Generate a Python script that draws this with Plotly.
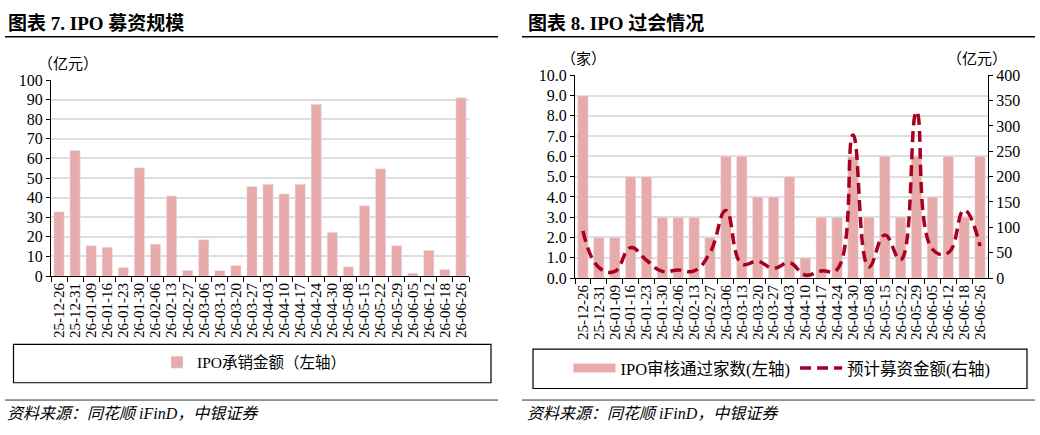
import plotly.graph_objects as go

# ---------------- data ----------------
dates = ["25-12-26", "25-12-31", "26-01-09", "26-01-16", "26-01-23", "26-01-30",
         "26-02-06", "26-02-13", "26-02-27", "26-03-06", "26-03-13", "26-03-20",
         "26-03-27", "26-04-03", "26-04-10", "26-04-17", "26-04-24", "26-04-30",
         "26-05-08", "26-05-15", "26-05-22", "26-05-29", "26-06-05", "26-06-12",
         "26-06-18", "26-06-26"]

ipo_underwriting = [32.8, 64.1, 15.5, 14.7, 4.4, 55.3, 16.3, 40.9, 2.9, 18.6, 2.8, 5.4,
                    45.7, 46.8, 41.9, 46.8, 87.7, 22.3, 4.7, 35.9, 54.7, 15.5, 1.5, 13.1,
                    3.4, 91.0]

ipo_approved = [9, 2, 2, 5, 5, 3, 3, 3, 2, 6, 6, 4, 4, 5, 1, 3, 3, 6, 3, 6, 3, 6, 4, 6, 3, 6]

planned_raise = [93, 21, 13, 60, 35, 13, 16, 14, 50, 133, 28, 33, 19, 30, 6, 14, 17, 282,
                 22, 85, 36, 328, 57, 50, 134, 63]

left_ticks = list(range(0, 101, 10))
right_left_ticks = [i * 1.0 for i in range(0, 11)]
right_right_ticks = list(range(0, 401, 50))

# ---------------- style ----------------
W, H = 1040, 435
BAR = "#E8ABAB"
LINE = "#A8001E"
GRID = "#DEDEDE"
SERIF = "Liberation Serif, 'Noto Sans CJK SC', serif"
CJK = "'Noto Sans CJK SC', 'Liberation Serif', serif"


def px(x):
    return x / W


def py(y):
    return 1 - y / H


fig = go.Figure()

fig.add_trace(go.Bar(x=dates, y=ipo_underwriting, marker_color=BAR, width=0.64,
                     name="IPO承销金额（左轴）", xaxis="x", yaxis="y", legend="legend"))

fig.add_trace(go.Bar(x=dates, y=ipo_approved, marker_color=BAR, width=0.66,
                     name="IPO审核通过家数(左轴)", xaxis="x2", yaxis="y2",
                     showlegend=False))
fig.add_trace(go.Scatter(x=[None], y=[None], mode="lines", xaxis="x2", yaxis="y2",
                         line=dict(color=BAR, width=9), name="IPO审核通过家数(左轴)",
                         legend="legend2"))
fig.add_trace(go.Scatter(x=dates, y=planned_raise, mode="lines", xaxis="x2", yaxis="y3",
                         line=dict(color=LINE, width=3.5, dash="11px,6px", shape="spline",
                                   smoothing=1.3),
                         name="预计募资金额(右轴)", legend="legend2"))

line_common = dict(showline=True, linecolor="black", linewidth=1, ticks="outside",
                   tickcolor="black", zeroline=False)
ytick_font = dict(family=SERIF, size=16, color="black")
xtick_font = dict(family=SERIF, size=15, color="black")

fig.update_layout(
    width=W, height=H, autosize=False,
    margin=dict(l=0, r=0, t=0, b=0),
    paper_bgcolor="white", plot_bgcolor="white",
    showlegend=True,
    xaxis=dict(domain=[px(51), px(469)], anchor="y", type="category",
               tickmode="linear", tick0=0, dtick=1,
               tickangle=-90, tickson="boundaries", ticklen=5, showgrid=False,
               tickfont=xtick_font, **line_common),
    yaxis=dict(domain=[py(279), py(75)], anchor="x", range=[0, 100],
               tickvals=left_ticks, ticklen=4, showgrid=True, gridcolor=GRID,
               gridwidth=1.5, tickfont=ytick_font, **line_common),
    xaxis2=dict(domain=[px(575), px(988)], anchor="y2", type="category",
                tickmode="linear", tick0=0, dtick=1,
                tickangle=-90, tickson="boundaries", ticklen=5, showgrid=False,
                tickfont=xtick_font, **line_common),
    yaxis2=dict(domain=[py(281), py(70)], anchor="x2", range=[0, 10],
                tickvals=right_left_ticks, tickformat=".1f", ticklen=4, showgrid=True,
                gridcolor=GRID, gridwidth=1.5, tickfont=ytick_font, **line_common),
    yaxis3=dict(anchor="x2", overlaying="y2", side="right", range=[0, 400],
                tickvals=right_right_ticks, ticklen=4, showgrid=False,
                tickfont=ytick_font, **line_common),
    legend=dict(x=px(254), y=py(369), xanchor="center", yanchor="middle",
                bgcolor="rgba(0,0,0,0)", borderwidth=0,
                font=dict(family=SERIF, size=15.5, color="black")),
    legend2=dict(x=px(782), y=py(375), xanchor="center", yanchor="middle",
                 orientation="h", itemwidth=42, bgcolor="rgba(0,0,0,0)", borderwidth=0,
                 font=dict(family=SERIF, size=16.5, color="black")),
)

shapes = [
    # title underlines
    dict(type="line", xref="paper", yref="paper", x0=px(5), x1=px(498), y0=py(30), y1=py(30),
         line=dict(color="black", width=1.5)),
    dict(type="line", xref="paper", yref="paper", x0=px(522), x1=px(1035), y0=py(30), y1=py(30),
         line=dict(color="black", width=1.5)),
    # source lines
    dict(type="line", xref="paper", yref="paper", x0=px(5), x1=px(498), y0=py(408), y1=py(408),
         line=dict(color="#333333", width=1)),
    dict(type="line", xref="paper", yref="paper", x0=px(522), x1=px(1035), y0=py(408), y1=py(408),
         line=dict(color="#333333", width=1)),
    # legend boxes
    dict(type="rect", xref="paper", yref="paper", x0=px(13.5), x1=px(491), y0=py(390), y1=py(350),
         line=dict(color="black", width=1.2), fillcolor="rgba(0,0,0,0)"),
    dict(type="rect", xref="paper", yref="paper", x0=px(533), x1=px(1027), y0=py(396), y1=py(355),
         line=dict(color="black", width=1.2), fillcolor="rgba(0,0,0,0)"),
]

annotations = [
    dict(text="<b>图表 7. IPO 募资规模</b>", x=px(6), y=py(16), xref="paper", yref="paper",
         xanchor="left", yanchor="middle", showarrow=False,
         font=dict(family=SERIF, size=19, color="black")),
    dict(text="<b>图表 8. IPO 过会情况</b>", x=px(526), y=py(16), xref="paper", yref="paper",
         xanchor="left", yanchor="middle", showarrow=False,
         font=dict(family=SERIF, size=19, color="black")),
    dict(text="（亿元）", x=px(36), y=py(57), xref="paper", yref="paper",
         xanchor="left", yanchor="middle", showarrow=False,
         font=dict(family=CJK, size=15, color="black")),
    dict(text="（家）", x=px(559), y=py(51), xref="paper", yref="paper",
         xanchor="left", yanchor="middle", showarrow=False,
         font=dict(family=CJK, size=15, color="black")),
    dict(text="（亿元）", x=px(945), y=py(51), xref="paper", yref="paper",
         xanchor="left", yanchor="middle", showarrow=False,
         font=dict(family=CJK, size=15, color="black")),
    dict(text="<i>资料来源：同花顺 iFinD，中银证券</i>", x=px(5), y=py(422), xref="paper",
         yref="paper", xanchor="left", yanchor="middle", showarrow=False,
         font=dict(family=SERIF, size=16, color="black")),
    dict(text="<i>资料来源：同花顺 iFinD，中银证券</i>", x=px(525), y=py(422), xref="paper",
         yref="paper", xanchor="left", yanchor="middle", showarrow=False,
         font=dict(family=SERIF, size=16, color="black")),
]

fig.update_layout(shapes=shapes, annotations=annotations)

fig.write_html("out.html")
